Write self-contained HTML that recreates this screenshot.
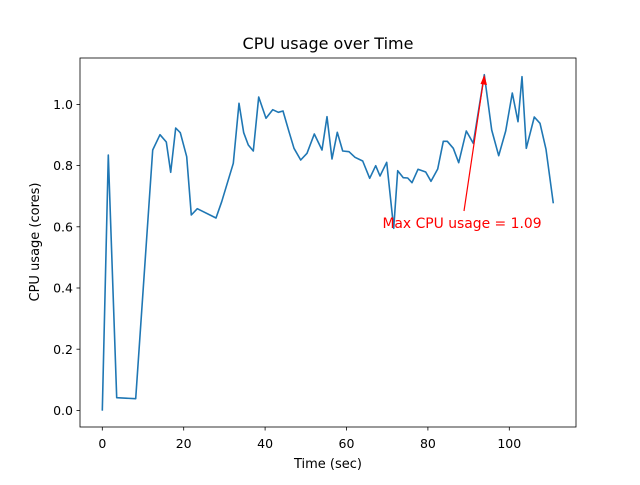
<!DOCTYPE html>
<html><head><style>body{margin:0;background:#fff}</style></head><body>
<svg width="640" height="480" xmlns="http://www.w3.org/2000/svg" font-family="DejaVu Sans, sans-serif">
<rect width="640" height="480" fill="#fff"/>
<polyline fill="none" stroke="#1f77b4" stroke-width="1.6" stroke-linejoin="round" points="102.3,410.7 108.3,155 116.7,397.7 135.7,398.7 152.7,150 160,134.7 166.3,142 170.7,172.3 175.7,128 180.3,132.7 186.7,156.7 191.3,215 197.3,208.7 216,218 221.7,201.7 233.3,163.3 239,103.3 243.7,132.7 248.3,145 253.3,151 258.7,97 266,118.3 272.7,109.7 278.3,112.3 283,111 289,131.7 294,148.3 300.7,160 307,153.3 314.3,134 322,150 327,116.7 332,159 337.3,132.3 342.7,151 349,151.7 355,157.3 362.7,161 369.7,178.3 375.7,165.7 380,176 386.7,162.3 393.7,228.3 397.7,170.7 403.3,177.7 407.7,178 412,182.7 418,169.3 425.7,172 431,181.3 437.7,169 443.3,141.3 447.3,141.3 453.3,148.3 458.7,162.7 466.3,131 473.3,143.3 484.3,74.7 491.7,130 498.7,155.7 505.7,131 512.3,93 518,121.7 522,76.7 526.3,148.3 534.3,117 540,123.3 546,149.3 553.3,203.3"/>
<line x1="464" y1="211" x2="483.5" y2="80" stroke="red" stroke-width="1.2"/>
<polygon points="484.3,74.7 480.5,84 487,85" fill="red"/>
<text x="462" y="228" font-size="13.9" fill="red" text-anchor="middle">Max CPU usage = 1.09</text>
<rect x="80" y="58" width="496" height="369" fill="none" stroke="#000" stroke-width="0.8"/>
<g stroke="#000" stroke-width="0.8">
<line x1="102.3" y1="427" x2="102.3" y2="430.5"/><line x1="183.7" y1="427" x2="183.7" y2="430.5"/><line x1="265.1" y1="427" x2="265.1" y2="430.5"/><line x1="346.5" y1="427" x2="346.5" y2="430.5"/><line x1="427.9" y1="427" x2="427.9" y2="430.5"/><line x1="509.3" y1="427" x2="509.3" y2="430.5"/>
<line x1="76.5" y1="410.4" x2="80" y2="410.4"/><line x1="76.5" y1="349.2" x2="80" y2="349.2"/><line x1="76.5" y1="288" x2="80" y2="288"/><line x1="76.5" y1="226.8" x2="80" y2="226.8"/><line x1="76.5" y1="165.6" x2="80" y2="165.6"/><line x1="76.5" y1="104.4" x2="80" y2="104.4"/>
</g>
<g font-size="12.5" text-anchor="middle">
<text x="102.3" y="448">0</text><text x="183.7" y="448">20</text><text x="265.1" y="448">40</text><text x="346.5" y="448">60</text><text x="427.9" y="448">80</text><text x="509.3" y="448">100</text>
</g>
<g font-size="12.5" text-anchor="end">
<text x="73" y="415">0.0</text><text x="73" y="354">0.2</text><text x="73" y="292.5">0.4</text><text x="73" y="231.3">0.6</text><text x="73" y="170">0.8</text><text x="73" y="109">1.0</text>
</g>
<text x="328" y="468" font-size="13" text-anchor="middle">Time (sec)</text>
<text x="39" y="242" font-size="13" text-anchor="middle" transform="rotate(-90 39 242)">CPU usage (cores)</text>
<text x="328" y="49" font-size="16" text-anchor="middle">CPU usage over Time</text>
</svg>
</body></html>
